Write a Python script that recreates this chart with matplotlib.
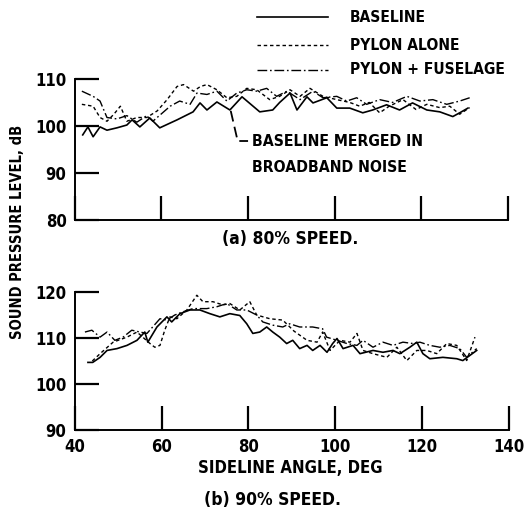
import matplotlib
matplotlib.use("Agg")
import matplotlib.pyplot as plt
from matplotlib.lines import Line2D

plt.rcParams['font.family'] = ['DejaVu Sans']
plt.rcParams['font.stretch'] = 'condensed'
plt.rcParams['font.weight'] = 'bold'

# (a) 80% speed
a_base_x = [41.8, 43.0, 44.2, 45.8, 47.4, 49.7, 52.0, 53.2, 55.0, 57.3, 59.6, 63.6, 67.3, 68.9,
            70.5, 72.8, 75.8, 78.6, 82.7, 85.7, 87.3, 89.7, 91.3, 93.6, 95.0, 98.2, 100.5, 103.5,
            106.5, 108.8, 112.0, 115.0, 118.0, 121.3, 124.3, 127.3, 128.9, 130.8]
a_base_y = [98.1, 99.8, 97.7, 99.8, 99.1, 99.6, 100.2, 101.3, 99.8, 101.7, 99.6, 101.3, 103.0, 104.9,
            103.4, 105.1, 103.4, 106.2, 103.0, 103.4, 105.0, 107.0, 103.4, 106.2, 104.9, 106.0, 103.8, 103.8,
            102.8, 103.4, 104.5, 103.4, 104.9, 103.4, 103.0, 102.0, 102.8, 103.8]

a_pylon_x = [41.6, 44.2, 45.8, 47.4, 49.0, 50.5, 52.0, 54.3, 56.6, 59.0, 61.3, 63.6, 65.1, 67.4,
             69.0, 70.5, 72.8, 75.1, 77.4, 79.7, 82.0, 85.0, 87.3, 89.7, 92.0, 94.3, 97.3, 100.5,
             103.5, 105.8, 108.0, 110.4, 112.6, 115.8, 118.8, 121.3, 124.3, 126.6, 128.9, 131.2]
a_pylon_y = [104.6, 104.2, 101.8, 101.0, 102.5, 104.2, 101.0, 101.8, 101.8, 103.2, 105.6, 108.4, 108.8, 107.4,
             108.4, 108.8, 107.7, 106.0, 106.3, 108.0, 107.7, 105.6, 106.3, 107.7, 106.3, 108.0, 106.3, 105.6,
             105.0, 104.2, 105.0, 102.8, 104.2, 105.6, 103.5, 104.6, 103.9, 104.2, 102.5, 103.9]

a_fus_x = [41.6, 44.2, 45.8, 47.4, 49.7, 52.0, 54.3, 56.6, 58.0, 62.0, 64.2, 66.6, 68.2, 70.5,
           72.8, 75.1, 77.4, 79.7, 82.0, 84.3, 86.6, 89.0, 92.0, 95.0, 97.3, 100.5, 102.8, 105.1,
           107.4, 110.4, 113.4, 116.7, 119.7, 122.7, 125.9, 128.9, 131.2]
a_fus_y = [107.4, 106.3, 105.3, 101.8, 101.5, 102.2, 100.8, 102.2, 101.0, 104.2, 105.3, 104.6, 107.0, 106.7,
           107.4, 105.3, 107.0, 107.7, 107.4, 108.0, 106.3, 107.4, 105.6, 107.4, 106.0, 106.3, 105.3, 106.0,
           104.6, 105.6, 105.0, 106.3, 105.3, 105.6, 104.6, 105.3, 106.0]

# (b) 90% speed
b_base_x = [43.0, 44.1, 45.8, 47.4, 49.7, 52.0, 54.3, 56.1, 56.8, 58.9, 61.2, 62.3, 64.2, 66.5,
            68.8, 71.1, 73.4, 75.7, 78.0, 79.6, 81.0, 82.6, 84.2, 85.6, 87.2, 88.8, 90.2, 91.8,
            93.5, 94.8, 96.5, 98.1, 99.4, 100.4, 101.8, 104.1, 105.7, 108.7, 111.0, 113.3, 114.9,
            117.2, 118.8, 120.2, 121.8, 124.8, 128.0, 129.4, 131.0, 132.6]
b_base_y = [104.7, 104.7, 105.8, 107.3, 107.7, 108.4, 109.5, 111.3, 109.1, 112.4, 114.6, 113.5, 115.3, 116.1,
            116.1, 115.3, 114.6, 115.3, 114.9, 113.1, 111.0, 111.3, 112.4, 111.3, 110.2, 108.8, 109.5, 107.7,
            108.4, 107.3, 108.4, 106.9, 108.8, 109.9, 107.7, 108.4, 106.6, 107.3, 106.9, 107.3, 106.6,
            108.0, 109.1, 106.6, 105.5, 105.8, 105.5, 105.1, 106.2, 107.3]

b_pylon_x = [44.0, 45.8, 48.8, 52.0, 54.3, 57.3, 58.4, 59.6, 60.7, 61.9, 63.5, 65.8, 68.1, 69.5,
             71.8, 74.1, 75.7, 78.0, 80.3, 81.9, 84.9, 87.9, 90.5, 93.5, 95.8, 97.1, 98.8, 101.1,
             103.4, 105.0, 106.4, 108.7, 111.9, 114.2, 116.5, 118.8, 121.1, 123.4, 125.7, 128.0,
             130.3, 132.2]
b_pylon_y = [105.0, 106.6, 109.1, 110.2, 111.3, 108.8, 108.0, 108.4, 111.7, 114.6, 114.2, 116.1, 119.3, 117.9,
             117.9, 117.2, 117.5, 116.1, 117.9, 115.0, 114.2, 113.9, 111.5, 109.5, 109.1, 111.3, 107.3, 109.5,
             109.1, 111.0, 107.3, 106.6, 105.8, 108.0, 105.1, 107.3, 107.3, 106.6, 108.8, 108.4,
             105.1, 110.2]

b_fus_x = [42.3, 43.9, 45.8, 47.4, 49.2, 51.1, 53.1, 55.0, 56.6, 59.6, 61.2, 63.0, 64.9, 67.2,
           70.4, 72.7, 75.0, 77.3, 79.6, 81.9, 83.3, 85.6, 87.9, 89.5, 91.8, 94.8, 97.1, 98.0,
           100.4, 102.7, 105.0, 106.4, 108.7, 111.0, 113.3, 115.6, 117.9, 119.5, 121.8, 124.1,
           126.4, 128.7, 130.3, 132.6]
b_fus_y = [111.3, 111.7, 110.2, 111.3, 109.5, 110.2, 111.7, 111.3, 111.0, 114.2, 113.9, 115.0, 115.7, 116.4,
           116.4, 116.8, 117.5, 116.1, 116.1, 115.0, 113.5, 112.8, 112.4, 113.1, 112.4, 112.4, 112.0, 110.2,
           109.5, 108.8, 108.4, 109.5, 108.0, 109.1, 108.4, 109.1, 108.8, 109.1, 108.4, 108.0,
           108.4, 107.7, 105.8, 107.7]

x_ticks = [40, 60, 80, 100, 120, 140]

solid = dict(color='black', lw=1.2, ls='-')
dashed = dict(color='black', lw=1.0, ls=(0, (2.5, 2)))
dashdot = dict(color='black', lw=1.0, ls=(0, (7, 2, 1.2, 2)))

fig = plt.figure(figsize=(5.24, 5.11), dpi=100)
ax1 = fig.add_axes([0.143, 0.5695, 0.826, 0.276])
ax2 = fig.add_axes([0.143, 0.1585, 0.828, 0.270])


def style(ax, ylim, yticks, xlabels):
    ax.set_xlim(40, 140)
    ax.set_ylim(*ylim)
    for s in ['top', 'right']:
        ax.spines[s].set_visible(False)
    for s in ['left', 'bottom']:
        ax.spines[s].set_linewidth(1.4)
    ax.set_xticks(x_ticks)
    ax.set_yticks(yticks)
    ax.tick_params(direction='in', length=17, width=1.6, labelsize=12, pad=6)
    if not xlabels:
        ax.set_xticklabels([])
    ax.patch.set_alpha(0)


ax1.plot(a_base_x, a_base_y, **solid)
ax1.plot(a_pylon_x, a_pylon_y, **dashed)
ax1.plot(a_fus_x, a_fus_y, **dashdot)
style(ax1, (80, 110), [80, 90, 100, 110], False)

# leader to the note
ax1.plot([76.0, 77.6, 80.0], [103.2, 96.8, 96.8], color='black', lw=1.3,
         ls=(0, (6, 3)), zorder=5)
ax1.text(81.0, 96.7, 'BASELINE MERGED IN', fontsize=11.3, va='center', ha='left')
ax1.text(81.0, 91.1, 'BROADBAND NOISE', fontsize=11.3, va='center', ha='left')

ax2.plot(b_base_x, b_base_y, **solid)
ax2.plot(b_pylon_x, b_pylon_y, **dashed)
ax2.plot(b_fus_x, b_fus_y, **dashdot)
style(ax2, (90, 120), [90, 100, 110, 120], True)

fig.text(290 / 524, 1 - 239 / 511, '(a) 80% SPEED.', fontsize=12.5, ha='center', va='center')
fig.text(290 / 524, 1 - 468 / 511, 'SIDELINE ANGLE, DEG', fontsize=12, ha='center', va='center')
fig.text(273 / 524, 1 - 500 / 511, '(b) 90% SPEED.', fontsize=12.5, ha='center', va='center')
fig.text(18 / 524, 1 - 232 / 511, 'SOUND PRESSURE LEVEL, dB', fontsize=10.5, rotation=90,
         ha='center', va='center')

# legend
rows = [('BASELINE', solid, 17), ('PYLON ALONE', dashed, 45), ('PYLON + FUSELAGE', dashdot, 70)]
for label, st, yp in rows:
    yf = 1 - yp / 511
    fig.add_artist(Line2D([257 / 524, 328 / 524], [yf, yf], transform=fig.transFigure, **st))
    fig.text(350 / 524, yf, label, fontsize=11.2, ha='left', va='center')

fig.savefig('out.png', dpi=100)
